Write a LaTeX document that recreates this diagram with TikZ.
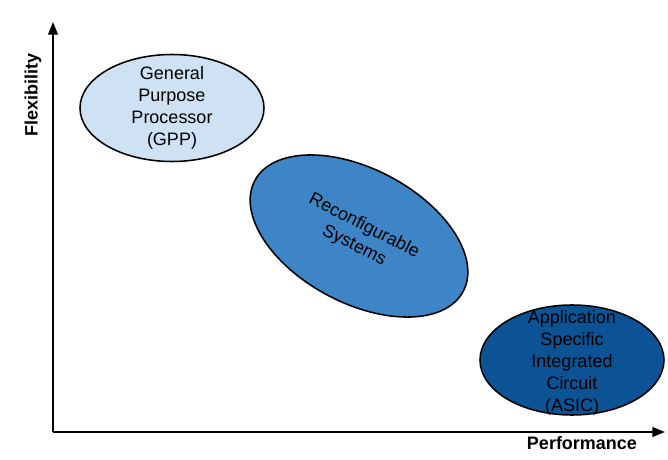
\documentclass[tikz,border=0pt]{standalone}
\usepackage{fontspec}
\setmainfont{Liberation Sans}
\usetikzlibrary{shapes.geometric,arrows.meta}
\definecolor{gppblue}{HTML}{CFE2F3}
\definecolor{rcblue}{HTML}{3D85C6}
\definecolor{asicblue}{HTML}{0B5394}
\begin{document}
\begin{tikzpicture}[
    blob/.style = {draw, ellipse, line width = 1.1pt, inner sep = 0pt},
    txt/.style = {align = center, font = \fontsize{12.8}{15.6}\selectfont},
    axis/.style = {line width = 1pt, -{Triangle[length = 9pt, width = 7pt]}}
    ]
        \useasboundingbox (0,0) rectangle (16.7,11.475);
        %Axes
        \coordinate (o) at (1.325,0.675);
        \coordinate (ytop) at (1.325,10.925);
        \coordinate (xend) at (16.625,0.675);
        \draw [axis](o)--(ytop);
        \draw [axis](o)--(xend);
        \node [txt, font = \fontsize{12.8}{15.6}\selectfont\bfseries, rotate = 90]
        (flex)at(0.825,9.1){Flexibility};
        \node [txt, font = \fontsize{12.8}{15.6}\selectfont\bfseries]
        (perf)at(14.55,0.4){Performance};
        %GPP
        \node [blob, fill = gppblue, minimum width = 4.6cm, minimum height = 2.675cm]
        (gpp)at(4.3,8.775){};
        \node [txt] (gpptxt)at(gpp.center){General\\Purpose\\Processor\\(GPP)};
        %Reconfigurable
        \node [blob, fill = rcblue, minimum width = 5.9cm, minimum height = 3.35cm, rotate = -28]
        (rc)at(8.975,5.575){};
        \node [txt, rotate = -27] (rctxt)at(rc.center){Reconfigurable\\Systems};
        %ASIC
        \node [blob, fill = asicblue, minimum width = 4.6cm, minimum height = 2.75cm]
        (asic)at(14.3,2.475){};
        \node [txt] (asictxt)at(14.3,2.4){Application\\Specific\\Integrated\\Circuit\\(ASIC)};
    \end{tikzpicture}
\end{document}
